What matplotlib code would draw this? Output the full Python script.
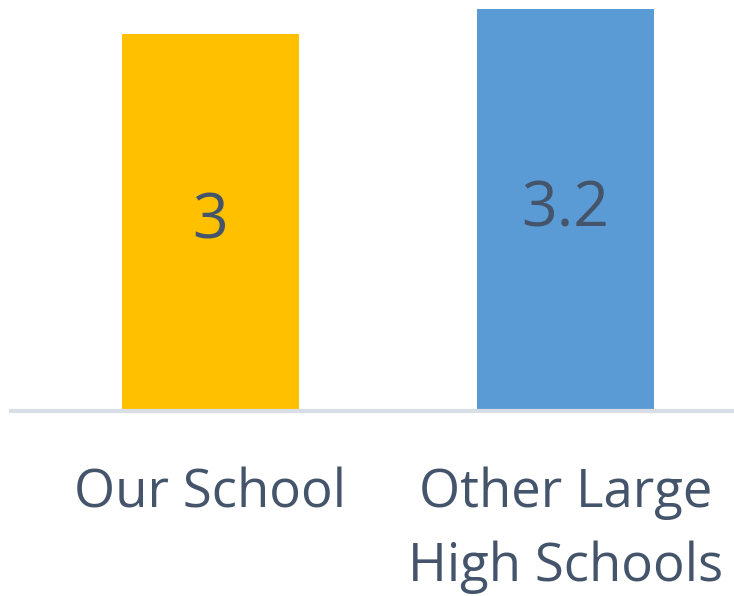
import matplotlib.pyplot as plt

categories = ['Our School', 'Other Large\nHigh Schools']
values = [3, 3.2]
value_labels = ['3', '3.2']
colors = ['#FFC000', '#5B9BD5']

plt.rcParams.update({'font.family': ['Open Sans', 'DejaVu Sans']})
txtcol = '#44546A'

fig = plt.figure(figsize=(7.34, 5.96), dpi=100)
ax = fig.add_axes([11 / 734, 1 - 411 / 596, 1 - 11 / 734, 411 / 596])

bars = ax.bar(range(len(values)), values, width=0.5, color=colors, zorder=2)
ax.bar_label(bars, labels=value_labels, label_type='center', fontsize=45, color=txtcol)

ax.set_xlim(-0.562, 1.475)
ax.set_ylim(0, 3.27)
ax.set_xticks(range(len(categories)))
ax.set_xticklabels(categories, fontsize=38, color=txtcol, linespacing=1.5)
ax.tick_params(axis='x', length=0, pad=40)
ax.set_yticks([])

for s in ['top', 'left', 'right']:
    ax.spines[s].set_visible(False)
ax.spines['bottom'].set_color('#D9DEE6')
ax.spines['bottom'].set_linewidth(3)

fig.savefig('out.png', dpi=100)
